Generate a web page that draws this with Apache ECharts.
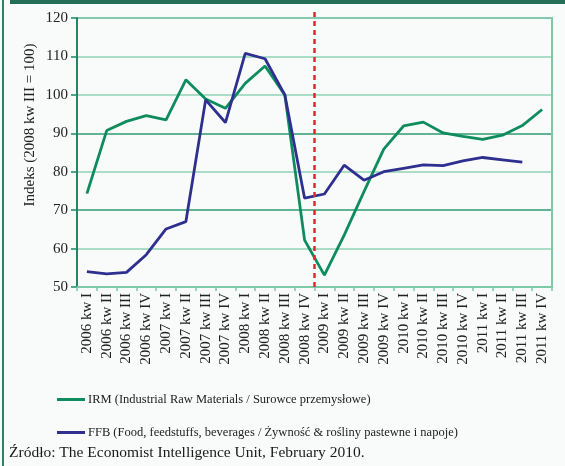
<!DOCTYPE html>
<html>
<head>
<meta charset="utf-8">
<script src="https://cdn.jsdelivr.net/npm/echarts@6/dist/echarts.min.js"></script>
<style>
html,body{margin:0;padding:0;background:#f9fbfa;}
#chart{width:565px;height:466px;}
</style>
</head>
<body>
<div id="chart"></div>
<script>
const categories = [
  '2006 kw I','2006 kw II','2006 kw III','2006 kw IV',
  '2007 kw I','2007 kw II','2007 kw III','2007 kw IV',
  '2008 kw I','2008 kw II','2008 kw III','2008 kw IV',
  '2009 kw I','2009 kw II','2009 kw III','2009 kw IV',
  '2010 kw I','2010 kw II','2010 kw III','2010 kw IV',
  '2011 kw I','2011 kw II','2011 kw III','2011 kw IV'
];
const irm = [74.3, 90.7, 93.1, 94.6, 93.5, 103.9, 98.9, 96.5, 103, 107.5, 100, 62.2,
             53.1, 63.5, 74.8, 85.9, 91.9, 92.9, 90.1, 89.2, 88.4, 89.5, 92, 96.2];
const ffb = [54, 53.4, 53.8, 58.4, 65.1, 67, 98.7, 92.8, 110.8, 109.4, 100, 73.1,
             74.2, 81.7, 77.8, 80, 80.9, 81.8, 81.6, 82.8, 83.7, 83.1, 82.5, null];
const irmName = 'IRM (Industrial Raw Materials / Surowce przemysłowe)';
const ffbName = 'FFB (Food, feedstuffs, beverages / Żywność & rośliny pastewne i napoje)';
const yName = 'Indeks (2008 kw III = 100)';
const yMin = 50, yMax = 120, yStep = 10;
const dividerBoundary = 12; // boundary between 2008 kw IV and 2009 kw I
const sourceText = 'Źródło: The Economist Intelligence Unit, February 2010.';

const serif = '"Liberation Serif", "DejaVu Serif", serif';
const chart = echarts.init(document.getElementById('chart'), null, {renderer: 'canvas'});
chart.setOption({
  backgroundColor: '#f9fbfa',
  animation: false,
  textStyle: {fontFamily: serif},
  grid: {left: 77, right: 13, top: 18, bottom: 179, containLabel: false},
  graphic: [
    {type: 'rect', shape: {x: 10, y: 0, width: 555, height: 4}, style: {fill: '#256e58'}},
    {type: 'rect', shape: {x: 2, y: 0, width: 2, height: 466}, style: {fill: '#2f8066'}},
    {type: 'text', left: 9, top: 445, style: {text: sourceText, font: '15.5px ' + serif, fill: '#1a1a1a'}},
    {type: 'text', x: 30, y: 125, rotation: Math.PI / 2,
     style: {text: yName, font: '15px ' + serif, fill: '#222', align: 'center', verticalAlign: 'middle'}}
  ],
  legend: {
    orient: 'vertical', left: 52, top: 388, itemGap: 20,
    itemWidth: 28, itemHeight: 3, icon: 'rect',
    textStyle: {fontFamily: serif, fontSize: 12.5, color: '#222', padding: [0, 0, 0, -2]},
    data: [irmName, ffbName]
  },
  xAxis: [{
    type: 'category', data: categories, boundaryGap: true,
    axisLine: {lineStyle: {color: '#7ccaa8', width: 2}},
    axisTick: {show: true, length: 4, lineStyle: {color: '#7ccaa8', width: 1.5}},
    axisLabel: {rotate: 90, fontFamily: serif, fontSize: 15, color: '#222', margin: 6, interval: 0},
    splitLine: {show: false}
  }, {
    type: 'value', min: 0, max: categories.length, show: false
  }],
  yAxis: [{
    type: 'value', min: yMin, max: yMax, interval: yStep,
    axisLine: {show: true, lineStyle: {color: '#1f8a62', width: 2}},
    axisTick: {show: true, length: 6, lineStyle: {color: '#1f8a62', width: 1.5}},
    axisLabel: {fontFamily: serif, fontSize: 15, color: '#222', margin: 9},
    splitLine: {show: true, lineStyle: {
      color: ['#7ccaa8', '#8fd3b6', '#2f9b72', '#8fd3b6', '#2f9b72', '#8fd3b6', '#8fd3b6', '#5cb894'],
      width: 1.5}}
  }, {
    type: 'value', min: yMin, max: yMax, position: 'right',
    axisLine: {show: true, lineStyle: {color: '#7ccaa8', width: 2}},
    axisTick: {show: false}, axisLabel: {show: false}, splitLine: {show: false}
  }],
  series: [
    {
      name: irmName, type: 'line', data: irm, symbol: 'none',
      lineStyle: {color: '#0e8c5e', width: 2.8}, itemStyle: {color: '#0e8c5e'}, z: 3
    },
    {
      name: ffbName, type: 'line', data: ffb, symbol: 'none',
      lineStyle: {color: '#2e2f8f', width: 2.8}, itemStyle: {color: '#2e2f8f'}, z: 4
    },
    {
      name: 'divider', type: 'line', xAxisIndex: 1, yAxisIndex: 0,
      data: [[dividerBoundary, yMin], [dividerBoundary, yMax + 2.4]],
      symbol: 'none', clip: false, silent: true,
      lineStyle: {color: '#e8242b', width: 2.5, type: [5, 4]}, z: 5
    }
  ]
});
</script>
</body>
</html>
